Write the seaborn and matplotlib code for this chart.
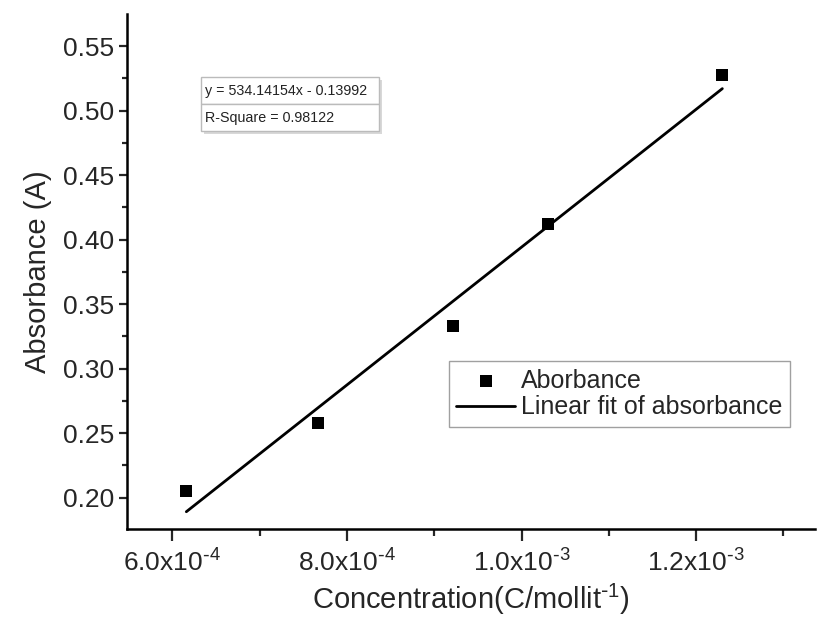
import numpy as np
import pandas as pd
import matplotlib
matplotlib.use("Agg")
import matplotlib.pyplot as plt
from matplotlib.ticker import MultipleLocator, FuncFormatter
from matplotlib.patches import Rectangle
import seaborn as sns

# Measured calibration points
concentration = [6.16e-4, 7.67e-4, 9.22e-4, 1.030e-3, 1.230e-3]
absorbance = [0.205, 0.258, 0.333, 0.412, 0.528]

# Reported linear fit
fit_slope = 534.14154
fit_intercept = -0.13992
r_square = 0.98122

x_tick_values = [6.0e-4, 8.0e-4, 1.0e-3, 1.2e-3]
x_tick_labels = [r"$\mathregular{6.0x10^{\text{-}4}}$", r"$\mathregular{8.0x10^{\text{-}4}}$",
                 r"$\mathregular{1.0x10^{\text{-}3}}$", r"$\mathregular{1.2x10^{\text{-}3}}$"]
y_tick_values = [0.20, 0.25, 0.30, 0.35, 0.40, 0.45, 0.50, 0.55]

sns.set_theme(style="ticks")
plt.rcParams["font.family"] = ["Liberation Sans", "DejaVu Sans"]
plt.rcParams["mathtext.default"] = "regular"
plt.rcParams["axes.unicode_minus"] = False

df = pd.DataFrame({"c": concentration, "a": absorbance})
fit_x = np.array([min(concentration), max(concentration)])
fit_df = pd.DataFrame({"c": fit_x, "a": fit_slope * fit_x + fit_intercept})

fig = plt.figure(figsize=(8.17, 6.24), dpi=100)
ax = fig.add_axes([0.1554, 0.152, 0.842, 0.8253])

sns.lineplot(data=fit_df, x="c", y="a", ax=ax, color="black", linewidth=2.0,
             label="Linear fit of absorbance", zorder=2)
sns.scatterplot(data=df, x="c", y="a", ax=ax, marker="s", s=85, color="black",
                edgecolor="black", linewidth=0, label="Aborbance", zorder=3)

ax.set_xlim(5.48e-4, 1.336e-3)
ax.set_ylim(0.1756, 0.5748)

ax.set_xticks(x_tick_values)
ax.set_xticklabels(x_tick_labels)
ax.xaxis.set_minor_locator(MultipleLocator(1e-4))
ax.set_yticks(y_tick_values)
ax.yaxis.set_major_formatter(FuncFormatter(lambda v, p: f"{v:.2f}"))
ax.yaxis.set_minor_locator(MultipleLocator(0.025))

ax.tick_params(axis="x", which="major", length=8.5, width=1.6, labelsize=19, pad=6, direction="out")
ax.tick_params(axis="x", which="minor", length=5, width=1.6, direction="out")
ax.tick_params(axis="y", which="major", length=6, width=1.6, labelsize=19, pad=3, direction="out")
ax.tick_params(axis="y", which="minor", length=3.5, width=1.6, direction="out")

for side in ("top", "right"):
    ax.spines[side].set_visible(False)
for side in ("left", "bottom"):
    ax.spines[side].set_linewidth(1.8)
    ax.spines[side].set_color("black")

ax.set_xlabel(r"Concentration(C/mollit$^{\text{-}1}$)", fontsize=21, labelpad=4)
ax.set_ylabel("Absorbance (A)", fontsize=21, labelpad=8)

# Legend: squares first, then the fit line
handles, labels = ax.get_legend_handles_labels()
order = [labels.index("Aborbance"), labels.index("Linear fit of absorbance")]
leg = ax.legend([handles[i] for i in order], [labels[i] for i in order],
                loc="upper left", bbox_to_anchor=(0.468, 0.326), borderaxespad=0,
                fontsize=18, frameon=True, fancybox=False, shadow=False,
                handlelength=2.35, handletextpad=0.25, borderpad=0.3,
                labelspacing=0.1, markerscale=1.0)
leg.get_frame().set_edgecolor("#888888")
leg.get_frame().set_linewidth(1.0)

# Fit summary box with a soft drop shadow
box = [0.1076, 0.7728, 0.259, 0.105]
ax.add_patch(Rectangle((box[0] + 0.004, box[1] - 0.006), box[2], box[3],
                       transform=ax.transAxes, facecolor="#d8d8d8",
                       edgecolor="none", zorder=4))
eq_text = f"y = {fit_slope:.5f}x - {abs(fit_intercept):.5f}"
r2_text = f"R-Square = {r_square:.5f}"
tbl = ax.table(cellText=[[eq_text], [r2_text]], cellLoc="left",
               bbox=box, zorder=5)
tbl.auto_set_font_size(False)
for (row, col), cell in tbl.get_celld().items():
    cell.set_edgecolor("#bbbbbb")
    cell.set_linewidth(1.0)
    cell.set_facecolor("white")
    cell.get_text().set_fontsize(10.3)
    cell.get_text().set_color("#222222")
    cell.PAD = 0.02

fig.savefig("out.png", dpi=100)
